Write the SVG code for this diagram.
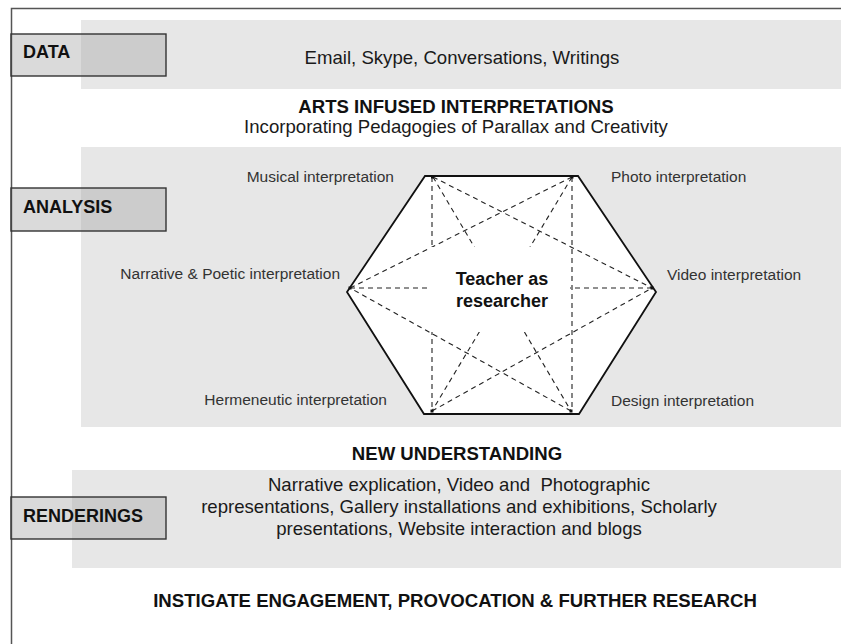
<svg xmlns="http://www.w3.org/2000/svg" width="841" height="644" viewBox="0 0 841 644">
<style>
  text { font-family: "Liberation Sans", Arial, sans-serif; }
  .band { fill: #e7e7e7; }
  .box { fill: #a8a8a8; fill-opacity: 0.42; stroke: #333; stroke-width: 1.4; }
  .boxlbl { font-size: 18px; font-weight: bold; fill: #111; }
  .main { font-size: 18.6px; fill: #1a1a1a; text-anchor: middle; }
  .head { font-size: 18.6px; font-weight: bold; fill: #111; text-anchor: middle; }
  .interp { font-size: 15.5px; fill: #333; }
  .dash { stroke: #222; stroke-width: 1.1; stroke-dasharray: 5 4; fill: none; }
  .dot { fill: #111; }
</style>
<rect x="0" y="0" width="841" height="644" fill="#ffffff"/>
<rect id="frame" x="11.5" y="8.5" width="840" height="640" fill="none" stroke="#555" stroke-width="1.5"/>

<g id="band-data"><rect class="band" x="81" y="20" width="760" height="69"/>
  <text class="main" x="462" y="64">Email, Skype, Conversations, Writings</text></g>
<g id="box-data"><rect class="box" x="11" y="34" width="155" height="42"/>
  <text class="boxlbl" x="23" y="58">DATA</text></g>

<g id="arts-heading">
  <text class="head" x="456" y="113">ARTS INFUSED INTERPRETATIONS</text>
  <text class="main" x="456" y="133">Incorporating Pedagogies of Parallax and Creativity</text>
</g>

<g id="band-analysis"><rect class="band" x="81" y="147" width="760" height="280"/></g>
<g id="box-analysis"><rect class="box" x="11" y="188" width="155" height="43"/>
  <text class="boxlbl" x="23" y="213">ANALYSIS</text></g>

<g id="hexagon">
  <polygon points="425,176 578,176 656,292 579,414 424,414 347,292" fill="#fff" stroke="#111" stroke-width="1.8" stroke-linejoin="miter"/>
</g>

<g id="connectors">
  <line class="dash" x1="433" y1="177" x2="652" y2="288"/>
  <line class="dash" x1="572" y1="177" x2="350" y2="288"/>
  <line class="dash" x1="432" y1="411" x2="652" y2="288"/>
  <line class="dash" x1="571" y1="411" x2="350" y2="288"/>
  <line class="dash" x1="433" y1="177" x2="571" y2="411"/>
  <line class="dash" x1="572" y1="177" x2="432" y2="411"/>
  <line class="dash" x1="432" y1="177" x2="432" y2="411"/>
  <line class="dash" x1="350" y1="288" x2="652" y2="288"/>
  <rect x="430" y="247" width="140" height="85" fill="#fff"/>
  <line class="dash" x1="572" y1="177" x2="572" y2="411"/>
  <rect class="dot" x="431" y="175.5" width="3" height="3"/>
  <rect class="dot" x="570.5" y="175.5" width="3" height="3"/>
  <rect class="dot" x="650.5" y="286.5" width="3" height="3"/>
  <rect class="dot" x="569.5" y="409.5" width="3" height="3"/>
  <rect class="dot" x="430.5" y="409.5" width="3" height="3"/>
  <rect class="dot" x="348.5" y="286.5" width="3" height="3"/>
</g>

<g id="center-label">
  <text class="head" x="502" y="285" style="font-size:18px">Teacher as</text>
  <text class="head" x="502" y="307" style="font-size:18px">researcher</text>
</g>

<g id="label-musical"><text class="interp" x="394" y="182" text-anchor="end">Musical interpretation</text></g>
<g id="label-narrative"><text class="interp" x="340" y="279" text-anchor="end">Narrative &amp; Poetic interpretation</text></g>
<g id="label-hermeneutic"><text class="interp" x="387" y="405" text-anchor="end">Hermeneutic interpretation</text></g>
<g id="label-photo"><text class="interp" x="611" y="182">Photo interpretation</text></g>
<g id="label-video"><text class="interp" x="667" y="280">Video interpretation</text></g>
<g id="label-design"><text class="interp" x="611" y="406">Design interpretation</text></g>

<g id="new-understanding"><text class="head" x="457" y="460">NEW UNDERSTANDING</text></g>

<g id="band-renderings"><rect class="band" x="72" y="470" width="769" height="98"/>
  <text class="main" x="459" y="491" xml:space="preserve" style="white-space:pre">Narrative explication, Video and  Photographic</text>
  <text class="main" x="459" y="513">representations, Gallery installations and exhibitions, Scholarly</text>
  <text class="main" x="459" y="535">presentations, Website interaction and blogs</text>
</g>
<g id="box-renderings"><rect class="box" x="11" y="497" width="155" height="42"/>
  <text class="boxlbl" x="23" y="522">RENDERINGS</text></g>

<g id="instigate"><text class="head" x="455" y="607">INSTIGATE ENGAGEMENT, PROVOCATION &amp; FURTHER RESEARCH</text></g>
</svg>
